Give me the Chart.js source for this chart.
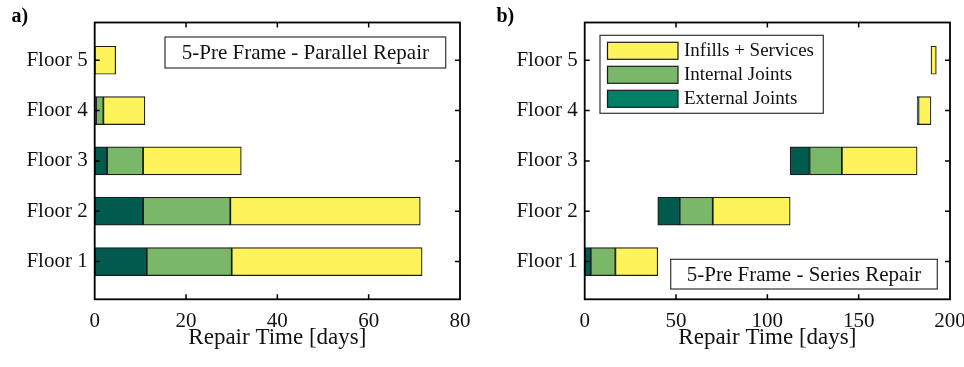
<!DOCTYPE html>
<html>
<head>
<meta charset="utf-8">
<script src="https://cdn.jsdelivr.net/npm/chart.js@4/dist/chart.umd.min.js"></script>
<style>
  html, body { margin: 0; padding: 0; background: #fff; }
  #wrap { position: relative; width: 964px; height: 367px; }
  canvas { position: absolute; top: 0; }
  #cA { left: 0; }
  #cB { left: 482px; }
</style>
</head>
<body>
<div id="wrap">
  <canvas id="cA" width="482" height="367"></canvas>
  <canvas id="cB" width="482" height="367"></canvas>
</div>
<script>
// Floors, bottom to top
const floors = ['Floor 1', 'Floor 2', 'Floor 3', 'Floor 4', 'Floor 5'];
const componentNames = ['External Joints', 'Internal Joints', 'Infills + Services'];

// Parallel repair: duration of each repair phase per floor [days]
const parExternal = [11.4, 10.6, 2.7, 0.3, 0];
const parInternal = [18.6, 19.1, 7.9, 1.6, 0];
const parInfills  = [41.7, 41.6, 21.5, 9.1, 4.6];

// Series repair: duration of each repair phase per floor [days]
const serExternal = [3.3, 12.0, 10.6, 0.3, 0];
const serInternal = [13.5, 18.1, 17.7, 0.4, 0];
const serInfills  = [23.2, 42.4, 41.2, 6.9, 2.9];

// Axis ticks
const xTicksA = [0, 20, 40, 60, 80];
const xTicksB = [0, 50, 100, 150, 200];

const barColors = ['#005b4e', '#7ab768', '#fff35b'];
const legendColors = ['#008066', '#7ab768', '#fff35b'];
const serif = 'Liberation Serif, Times New Roman, serif';

// Turn phase durations into floating [start, end] segments.
// In series repair each floor begins when the one below has finished.
function buildSegments(ext, int, inf, sequential) {
  const comps = [ext, int, inf];
  const sets = comps.map(() => []);
  let clock = 0;
  for (let i = 0; i < floors.length; i++) {
    let t = sequential ? clock : 0;
    comps.forEach((c, k) => {
      if (c[i] > 0) sets[k].push({ y: i + 1, x: [t, t + c[i]] });
      t += c[i];
    });
    clock = t;
  }
  return sets;
}

// Frame box, inward ticks, annotation boxes and legend
const decor = {
  id: 'decor',
  afterDatasetsDraw(chart, args, o) {
    const { ctx, chartArea: a, scales } = chart;
    ctx.save();
    ctx.strokeStyle = '#000';
    ctx.lineWidth = 1.8;
    ctx.strokeRect(a.left, a.top, a.right - a.left, a.bottom - a.top);
    ctx.lineWidth = 1.5;
    ctx.beginPath();
    scales.x.ticks.forEach(t => {
      const px = scales.x.getPixelForValue(t.value);
      if (Math.abs(px - a.left) < 2 || Math.abs(px - a.right) < 2) return;
      ctx.moveTo(px, a.bottom); ctx.lineTo(px, a.bottom - 5);
      ctx.moveTo(px, a.top); ctx.lineTo(px, a.top + 5);
    });
    scales.y.ticks.forEach(t => {
      const py = scales.y.getPixelForValue(t.value);
      ctx.moveTo(a.left, py); ctx.lineTo(a.left + 5, py);
      ctx.moveTo(a.right, py); ctx.lineTo(a.right - 5, py);
    });
    ctx.stroke();

    // annotation box
    const n = o.note;
    ctx.fillStyle = '#fff';
    ctx.fillRect(n.x, n.y, n.w, n.h);
    ctx.strokeStyle = '#333';
    ctx.lineWidth = 1.2;
    ctx.strokeRect(n.x, n.y, n.w, n.h);
    ctx.fillStyle = '#111';
    ctx.font = '21px ' + serif;
    ctx.textAlign = 'center';
    ctx.textBaseline = 'middle';
    ctx.fillText(n.text, n.x + n.w / 2, n.y + n.h / 2 + 1);

    // legend
    if (o.legend) {
      const L = o.legend;
      ctx.fillStyle = '#fff';
      ctx.fillRect(L.x, L.y, L.w, L.h);
      ctx.strokeStyle = '#333';
      ctx.strokeRect(L.x, L.y, L.w, L.h);
      const order = [2, 1, 0];
      ctx.font = '19px ' + serif;
      ctx.textAlign = 'left';
      order.forEach((k, r) => {
        const sy = L.y + 7 + r * 24;
        ctx.fillStyle = legendColors[k];
        ctx.fillRect(L.x + 7.5, sy, 70.5, 17);
        ctx.strokeStyle = '#1c1c1c';
        ctx.lineWidth = 1.2;
        ctx.strokeRect(L.x + 7.5, sy, 70.5, 17);
        ctx.fillStyle = '#111';
        ctx.fillText(chart.data.datasets[k].label, L.x + 84, sy + 9);
      });
    }

    // panel letter
    ctx.fillStyle = '#000';
    ctx.font = 'bold 20px ' + serif;
    ctx.textAlign = 'left';
    ctx.textBaseline = 'alphabetic';
    ctx.fillText(o.letter, o.letterX, 22);
    ctx.restore();
  }
};

function makeChart(canvasId, sets, ticks, cfg) {
  return new Chart(document.getElementById(canvasId), {
    type: 'bar',
    data: {
      datasets: sets.map((d, k) => ({
        label: componentNames[k],
        data: d,
        backgroundColor: barColors[k],
        borderColor: '#1c1c1c',
        borderWidth: 1.2,
        borderSkipped: false,
        grouped: false,
        barThickness: 28
      }))
    },
    options: {
      responsive: false,
      animation: false,
      indexAxis: 'y',
      layout: { padding: { top: 22.5, right: cfg.padRight, left: 0, bottom: 0 } },
      plugins: {
        legend: { display: false },
        tooltip: { enabled: false },
        decor: cfg.decor
      },
      scales: {
        x: {
          type: 'linear',
          min: ticks[0],
          max: ticks[ticks.length - 1],
          offset: false,
          afterBuildTicks: s => { s.ticks = ticks.map(v => ({ value: v })); },
          grid: { display: false, drawTicks: false },
          border: { display: false },
          ticks: { color: '#111', font: { family: serif, size: 21 }, padding: 10, maxRotation: 0 },
          title: {
            display: true, text: 'Repair Time [days]', color: '#111',
            font: { family: serif, size: 23 }, padding: { top: 0, bottom: 15 }
          },
          afterFit: s => { s.height = 67.7; s.paddingLeft = 0; s.paddingRight = 0; }
        },
        y: {
          type: 'linear',
          min: 0.25,
          max: 5.75,
          offset: false,
          grace: 0,
          afterBuildTicks: s => { s.ticks = floors.map((f, i) => ({ value: i + 1 })); },
          grid: { display: false, drawTicks: false },
          border: { display: false },
          ticks: {
            color: '#111', font: { family: serif, size: 21 }, padding: 7,
            callback: v => floors[Math.round(v) - 1]
          },
          afterFit: s => { s.width = cfg.yWidth; s.paddingTop = 0; s.paddingBottom = 0; }
        }
      }
    },
    plugins: [decor]
  });
}

makeChart('cA', buildSegments(parExternal, parInternal, parInfills, false), xTicksA, {
  padRight: 22, yWidth: 94.7,
  decor: {
    letter: 'a)', letterX: 11.5,
    note: { x: 165, y: 37, w: 280.7, h: 31, text: '5-Pre Frame - Parallel Repair' }
  }
});

makeChart('cB', buildSegments(serExternal, serInternal, serInfills, true), xTicksB, {
  padRight: 14, yWidth: 102.7,
  decor: {
    letter: 'b)', letterX: 14.5,
    note: { x: 188.7, y: 259.3, w: 266.6, h: 29.7, text: '5-Pre Frame - Series Repair' },
    legend: { x: 118, y: 35.3, w: 223.3, h: 78 }
  }
});
</script>
</body>
</html>
